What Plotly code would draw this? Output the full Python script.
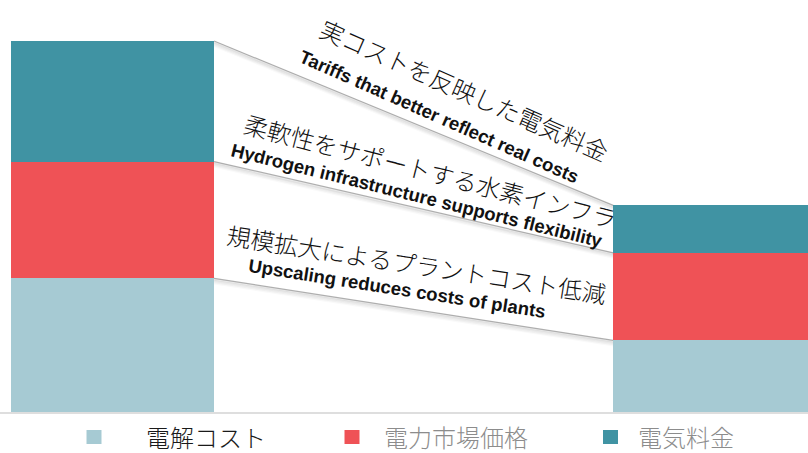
import plotly.graph_objects as go

# Hydrogen cost stack: today vs. future
scenarios = ["現状", "将来"]
series_names = ["電解コスト", "電力市場価格", "電気料金"]
electrolysis_cost = [36.0, 19.3]
power_market_price = [31.5, 23.6]
electricity_tariff = [32.5, 12.8]

drivers_ja = [
    "実コストを反映した電気料金",
    "柔軟性をサポートする水素インフラ",
    "規模拡大によるプラントコスト低減",
]
drivers_en = [
    "Tariffs that better reflect real costs",
    "Hydrogen infrastructure supports flexibility",
    "Upscaling reduces costs of plants",
]

COLORS = ["#a6cad3", "#ef5256", "#4093a3"]
W, H = 808, 453
PLOT_H = 412
BAR_W = 0.337
X_RANGE = [-0.187, 1.155]
Y_RANGE = [0, 111.05]
UNIT_PX = PLOT_H / (Y_RANGE[1] - Y_RANGE[0])


def px_x(px):
    return px / W


def px_y(py):
    return (PLOT_H - py) / PLOT_H


fig = go.Figure()
for name, vals, col in zip(series_names,
                           [electrolysis_cost, power_market_price, electricity_tariff],
                           COLORS):
    fig.add_trace(go.Bar(
        x=scenarios, y=vals, name=name, width=BAR_W,
        marker=dict(color=col, line=dict(width=0)),
        showlegend=False, hoverinfo="skip",
    ))

# cumulative boundaries for the connector lines (top of stack first)
left_bounds = [
    electrolysis_cost[0] + power_market_price[0] + electricity_tariff[0],
    electrolysis_cost[0] + power_market_price[0],
    electrolysis_cost[0],
]
right_bounds = [
    electrolysis_cost[1] + power_market_price[1] + electricity_tariff[1],
    electrolysis_cost[1] + power_market_price[1],
    electrolysis_cost[1],
]

shapes = []
x_start = 0 + BAR_W / 2
x_end = 1 - BAR_W / 2
for yl, yr in zip(left_bounds, right_bounds):
    # soft shading just under each fold line
    for k, alpha in [(4, 0.025), (3, 0.035), (2, 0.05), (1, 0.07)]:
        off = k * 1.2 / UNIT_PX
        shapes.append(dict(type="line", xref="x", yref="y",
                           x0=x_start, x1=x_end, y0=yl - off, y1=yr - off,
                           line=dict(color=f"rgba(0,0,0,{alpha})", width=2.4),
                           layer="below"))
    shapes.append(dict(type="line", xref="x", yref="y",
                       x0=x_start, x1=x_end, y0=yl, y1=yr,
                       line=dict(color="rgba(150,150,150,0.75)", width=1.2),
                       layer="below"))

# baseline
shapes.append(dict(type="line", xref="paper", yref="paper",
                   x0=0, x1=1, y0=px_y(413), y1=px_y(413),
                   line=dict(color="#dedede", width=2), layer="below"))

# legend swatches
legend_sq = [(86.5, 430), (344.5, 430), (603, 430)]
for (sx, sy), col in zip(legend_sq, COLORS):
    shapes.append(dict(type="rect", xref="paper", yref="paper",
                       x0=px_x(sx), x1=px_x(sx + 15),
                       y0=px_y(sy + 14), y1=px_y(sy),
                       fillcolor=col, line=dict(width=0)))

annotations = []
ja_pos = [(464.5, 89, 23.8), (430, 170, 14.5), (416, 263.5, 8.9)]
en_pos = [(439, 116, 23.8), (417, 195, 13.9), (397, 288.5, 8.9)]
for txt, (cx, cy, ang) in zip(drivers_ja, ja_pos):
    annotations.append(dict(
        text=txt, xref="paper", yref="paper", x=px_x(cx), y=px_y(cy),
        xanchor="center", yanchor="middle", textangle=ang, showarrow=False,
        font=dict(family="Noto Sans CJK JP", size=24, color="#111111", weight=300),
    ))
for txt, (cx, cy, ang) in zip(drivers_en, en_pos):
    annotations.append(dict(
        text=txt, xref="paper", yref="paper", x=px_x(cx), y=px_y(cy),
        xanchor="center", yanchor="middle", textangle=ang, showarrow=False,
        font=dict(family="Liberation Sans", size=18.5, color="#111111", weight="bold"),
    ))

legend_txt = [(145, 436, "#1a1a1a"), (383, 436, "#8c8c8c"), (637, 436, "#8c8c8c")]
for name, (tx, ty, tc) in zip(series_names, legend_txt):
    annotations.append(dict(
        text=name, xref="paper", yref="paper", x=px_x(tx), y=px_y(ty),
        xanchor="left", yanchor="middle", showarrow=False, borderpad=0,
        font=dict(family="Noto Sans CJK JP", size=24, color=tc, weight=300),
    ))

fig.update_layout(
    width=W, height=H,
    margin=dict(l=0, r=0, t=0, b=H - PLOT_H, pad=0),
    barmode="stack", bargap=0,
    paper_bgcolor="white", plot_bgcolor="white",
    xaxis=dict(visible=False, range=X_RANGE, type="category"),
    yaxis=dict(visible=False, range=Y_RANGE),
    shapes=shapes, annotations=annotations,
    showlegend=False,
)

fig.write_html("out.html")
